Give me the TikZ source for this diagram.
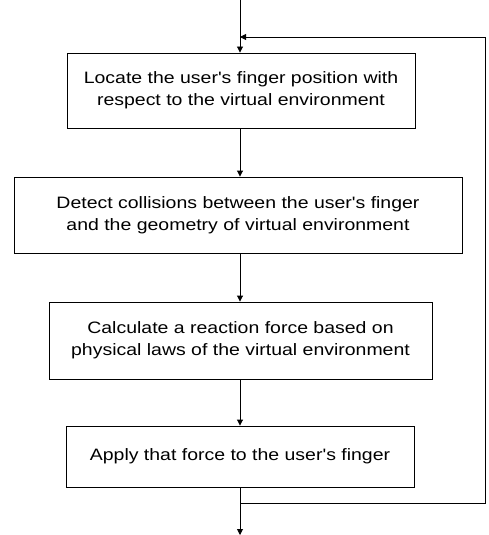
\documentclass[tikz,border=0pt]{standalone}
\usepackage{fontspec}
\setmainfont{Liberation Sans}[Ligatures=TeXOff,FakeStretch=1.18]
\usetikzlibrary{arrows.meta}
\begin{document}
\begin{tikzpicture}[x=1pt,y=-1pt,
  procbox/.style={draw,line width=0.9pt,inner sep=0pt,align=center,font=\fontsize{16.5}{22}\selectfont},
  flow/.style={line width=0.9pt,-{Triangle[width=6pt,length=6pt]}},
  plain/.style={line width=0.9pt}]
\useasboundingbox (0,0) rectangle (488,535);
\node[procbox,minimum width=348pt,minimum height=75pt] (b1) at (241,90.5)
  {Locate the user's finger position with\\respect to the virtual environment};
\node[procbox,minimum width=448pt,minimum height=76pt] (b2) at (238,215)
  {Detect collisions between the user's finger\\and the geometry of virtual environment};
\node[procbox,minimum width=383pt,minimum height=77pt] (b3) at (240.5,340.5)
  {Calculate a reaction force based on\\physical laws of the virtual environment};
\node[procbox,minimum width=348pt,minimum height=61pt] (b4) at (240,456.5)
  {Apply that force to the user's finger};
\coordinate (start) at (240,0);
\coordinate (join) at (240,37);
\coordinate (split) at (240,503);
\coordinate (endp) at (240,535);
\coordinate (rb) at (485,503);
\coordinate (rt) at (485,37);
\draw[flow] (start) -- (b1.north -| start);
\draw[flow] (b1.south -| start) -- (b2.north -| start);
\draw[flow] (b2.south -| start) -- (b3.north -| start);
\draw[flow] (b3.south -| start) -- (b4.north -| start);
\draw[flow] (b4.south -| start) -- (endp);
\draw[flow] (split) -- (rb) -- (rt) -- (join);
\end{tikzpicture}
\end{document}
